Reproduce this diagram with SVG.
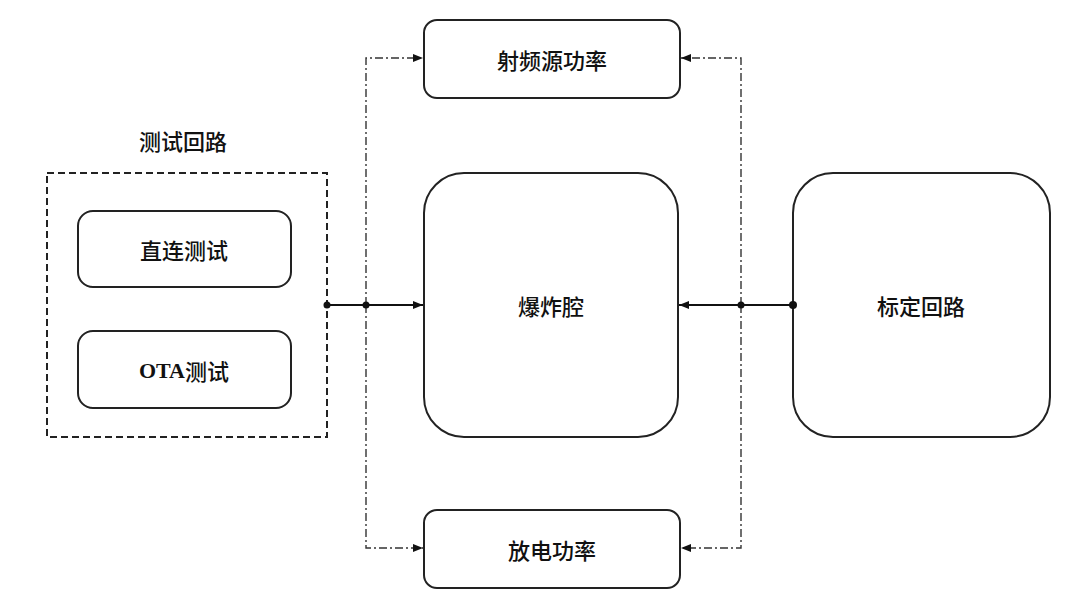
<svg xmlns="http://www.w3.org/2000/svg" width="1080" height="600" viewBox="0 0 1080 600">
<defs>
<marker id="arr" viewBox="0 0 10 10" refX="10" refY="5" markerWidth="10" markerHeight="10" markerUnits="userSpaceOnUse" orient="auto">
<path d="M0,1 L10,5 L0,9 z" fill="#111"/>
</marker>
<style>
.box{fill:#fff;stroke:#222;stroke-width:2}
.lbl{font-family:"Noto Sans CJK SC","Liberation Sans",sans-serif;font-size:22px;font-weight:500;fill:#111;text-anchor:middle;dominant-baseline:central}
.solid{stroke:#111;stroke-width:2;fill:none}
.dd{stroke:#333;stroke-width:1.4;fill:none;stroke-dasharray:8 3 2 3}
.dot{fill:#111}
</style>
</defs>
<rect width="1080" height="600" fill="#fff"/>
<g id="test-loop">
<rect x="47" y="173" width="280" height="264" fill="none" stroke="#222" stroke-width="2" stroke-dasharray="7 4"/>
<text class="lbl" x="183" y="140">测试回路</text>
</g>
<g id="direct-test">
<rect class="box" x="78" y="211" width="213" height="76" rx="15"/>
<text class="lbl" x="184" y="249">直连测试</text>
</g>
<g id="ota-test">
<rect class="box" x="78" y="331" width="213" height="77" rx="15"/>
<text class="lbl" x="184" y="370"><tspan font-family="'Liberation Serif',serif" font-weight="bold">OTA</tspan>测试</text>
</g>
<g id="rf-power">
<rect class="box" x="424" y="20" width="256" height="78" rx="13"/>
<text class="lbl" x="552" y="59">射频源功率</text>
</g>
<g id="chamber">
<rect class="box" x="424" y="173" width="254" height="264" rx="40"/>
<text class="lbl" x="551" y="305">爆炸腔</text>
</g>
<g id="calib">
<rect class="box" x="793" y="173" width="257" height="264" rx="40"/>
<text class="lbl" x="921" y="305">标定回路</text>
</g>
<g id="discharge">
<rect class="box" x="424" y="510" width="256" height="78" rx="13"/>
<text class="lbl" x="552" y="549">放电功率</text>
</g>
<g id="connectors">
<line class="solid" x1="327" y1="305" x2="423" y2="305" marker-end="url(#arr)"/>
<line class="solid" x1="793" y1="305" x2="679" y2="305" marker-end="url(#arr)"/>
<path class="dd" d="M366,305 V58 H423" marker-end="url(#arr)"/>
<path class="dd" d="M366,305 V548 H423" marker-end="url(#arr)"/>
<path class="dd" d="M741,305 V58 H681" marker-end="url(#arr)"/>
<path class="dd" d="M741,305 V548 H681" marker-end="url(#arr)"/>
<circle class="dot" cx="327" cy="305" r="3.5"/>
<circle class="dot" cx="366" cy="305" r="3.5"/>
<circle class="dot" cx="741" cy="305" r="3.5"/>
<circle class="dot" cx="793" cy="305" r="4"/>
</g>
</svg>
